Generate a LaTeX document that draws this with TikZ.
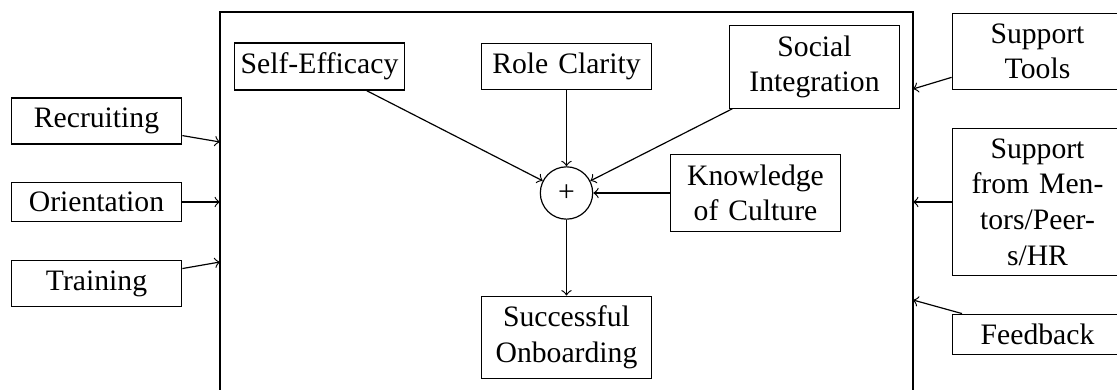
\documentclass[tikz,border=0pt]{standalone}
\usepackage{fontspec}
\setmainfont{Liberation Serif}
\begin{document}
\begin{tikzpicture}[x=0.337pt,y=-0.337pt,
  box/.style={draw,text width=1.88cm,inner xsep=2pt,align=center},
  sum/.style={draw,circle,minimum size=0.62cm,inner sep=0pt}]
  \useasboundingbox (0,0) rectangle (1117,390);
  \clip (0,0) rectangle (1117,390);
  \draw (220,12) rectangle (913,392);
  % left side
  \foreach \n/\y/\t in {recruiting/121/Recruiting,orientation/202/Orientation,training/283.5/Training} {
    \node[box] (\n) at (96.5,\y) {\t};
  }
  \coordinate (inA) at (220,142);
  \coordinate (inB) at (220,202);
  \coordinate (inC) at (220,262);
  \draw[->] (recruiting) -- (inA);
  \draw[->] (orientation) -- (inB);
  \draw[->] (training) -- (inC);
  % inside the frame
  \node[box] (selfeff) at (319.5,66.5) {Self-Efficacy};
  \node[box] (role) at (566.5,66.5) {Role Clarity};
  \node[box] (social) at (814.5,67) {Social\\Integration};
  \node[sum] (plus) at (566.5,193) {+};
  \node[box] (culture) at (755.5,193) {Knowledge\\of Culture};
  \node[box] (success) at (566.5,337.5) {Successful\\Onboarding};
  \foreach \n in {selfeff,role,social,culture} {
    \draw[->] (\n) -- (plus);
  }
  \draw[->] (plus) -- (success);
  % right side
  \node[box] (tools) at (1037.5,51.5) {Support\\Tools};
  \node[box] (mentors) at (1037.5,202) {Support\\from Men-\\tors/Peer-\\s/HR};
  \node[box] (feedback) at (1037.5,334.5) {Feedback};
  \coordinate (outA) at (913,89);
  \coordinate (outB) at (913,202);
  \coordinate (outC) at (913,300);
  \draw[->] (tools) -- (outA);
  \draw[->] (mentors) -- (outB);
  \draw[->] (feedback) -- (outC);
\end{tikzpicture}
\end{document}
